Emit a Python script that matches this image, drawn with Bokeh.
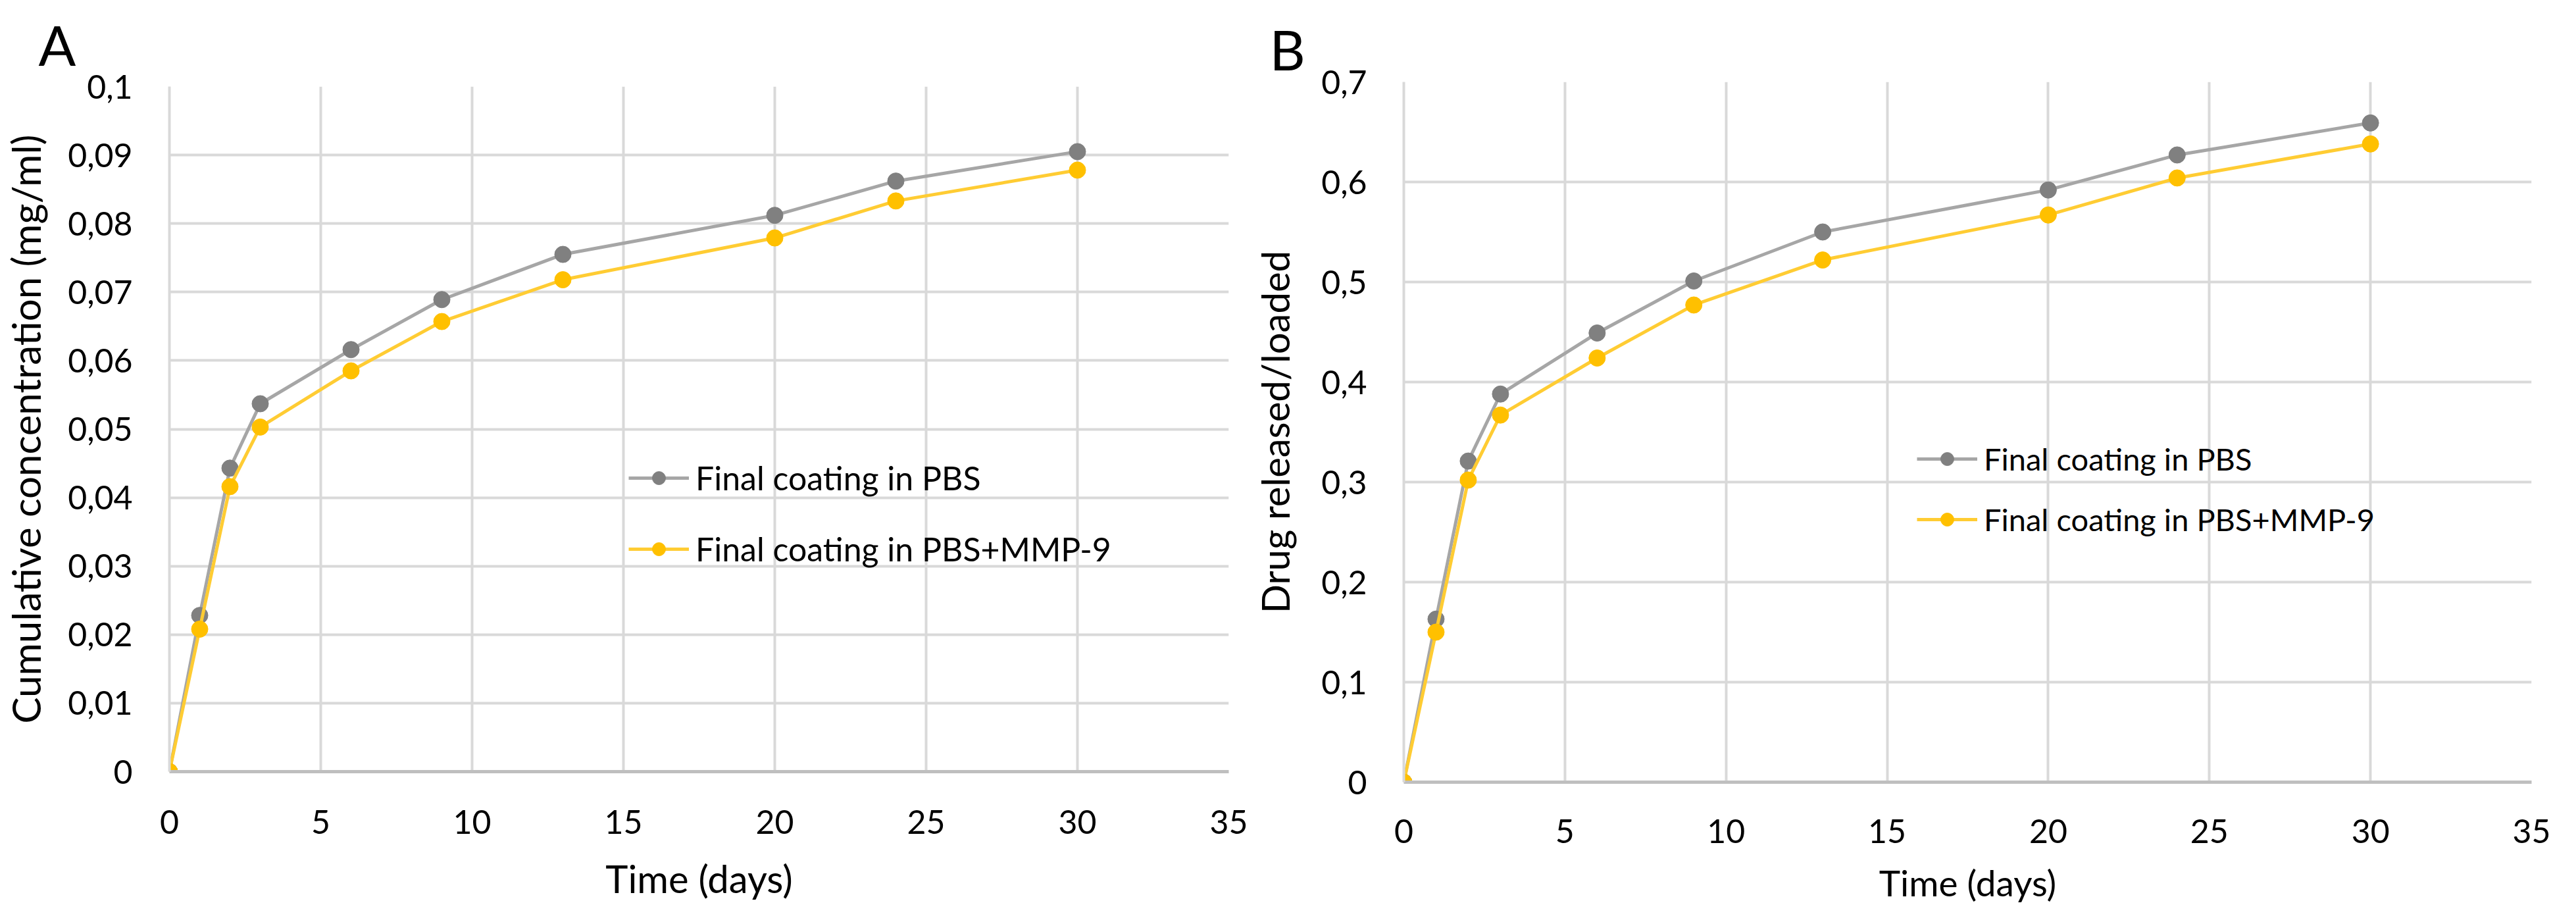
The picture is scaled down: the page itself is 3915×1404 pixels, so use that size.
from bokeh.plotting import figure
from bokeh.layouts import row
from bokeh.models import Range1d, FixedTicker, Legend, LegendItem
from bokeh.embed import file_html
from bokeh.resources import INLINE

# ---- data ----
days = [0, 1, 2, 3, 6, 9, 13, 20, 24, 30]
conc_pbs = [0, 0.0228, 0.0443, 0.0537, 0.0616, 0.0689, 0.0755, 0.0812, 0.0862, 0.0905]
conc_mmp = [0, 0.0208, 0.0416, 0.0503, 0.0585, 0.0657, 0.0718, 0.0779, 0.0833, 0.0878]
rel_pbs = [0, 0.163, 0.321, 0.388, 0.449, 0.501, 0.550, 0.592, 0.627, 0.659]
rel_mmp = [0, 0.150, 0.302, 0.367, 0.424, 0.477, 0.522, 0.567, 0.604, 0.638]

x_ticks = [0, 5, 10, 15, 20, 25, 30, 35]
yA_ticks = [0, 0.01, 0.02, 0.03, 0.04, 0.05, 0.06, 0.07, 0.08, 0.09, 0.1]
yA_labels = ["0", "0,01", "0,02", "0,03", "0,04", "0,05", "0,06", "0,07", "0,08", "0,09", "0,1"]
yB_ticks = [0, 0.1, 0.2, 0.3, 0.4, 0.5, 0.6, 0.7]
yB_labels = ["0", "0,1", "0,2", "0,3", "0,4", "0,5", "0,6", "0,7"]

series_names = ["Final coating in PBS", "Final coating in PBS+MMP-9"]
line_colors = ["#A6A6A6", "#FFCC33"]
marker_colors = ["#808080", "#FFC000"]

FONT = "Lato"
H = 1388


def make_panel(width, ymax, yticks, ylabels, ytitle, ys, letter, borders, legend_cfg,
               letter_cfg, yt_cfg, xt_cfg):
    left, right, top, bottom = borders
    p = figure(width=width, height=H, output_backend="svg", toolbar_location=None,
               x_range=Range1d(0, 35), y_range=Range1d(0, ymax),
               min_border_left=left, min_border_right=right,
               min_border_top=top, min_border_bottom=bottom,
               frame_align=False)
    p.outline_line_color = None
    p.background_fill_color = "white"
    p.border_fill_color = "white"

    # panel letter as the figure title
    p.title.text = letter
    p.title.text_font = FONT
    p.title.text_font_size = "84px"
    p.title.text_font_style = "normal"
    p.title.text_color = "#000000"
    p.title.align = "left"
    p.title.offset = letter_cfg[0]
    p.title.standoff = letter_cfg[1]

    p.xaxis.ticker = FixedTicker(ticks=x_ticks)
    p.yaxis.ticker = FixedTicker(ticks=yticks)
    p.yaxis.major_label_overrides = {t: l for t, l in zip(yticks, ylabels)}

    for ax in (p.xaxis[0], p.yaxis[0]):
        ax.major_tick_line_color = None
        ax.minor_tick_line_color = None
        ax.major_label_text_font = FONT
        ax.major_label_text_font_size = "50px"
        ax.major_label_text_color = "#000000"
        ax.axis_label_text_font = FONT
        ax.axis_label_text_font_style = "normal"
        ax.axis_label_text_color = "#000000"
    p.xaxis.axis_label_text_font_size = xt_cfg[2]
    p.yaxis.axis_label_text_font_size = yt_cfg[0]
    p.xaxis.axis_line_color = "#BFBFBF"
    p.xaxis.axis_line_width = 5
    p.yaxis.axis_line_color = "#D9D9D9"
    p.yaxis.axis_line_width = 4
    p.xaxis.major_label_standoff = xt_cfg[0]
    p.yaxis.major_label_standoff = 50
    p.xaxis.axis_label = "Time (days)"
    p.xaxis.axis_label_standoff = xt_cfg[1]
    p.yaxis.axis_label = ytitle
    p.yaxis.axis_label_standoff = yt_cfg[1]

    p.xgrid.grid_line_color = "#D9D9D9"
    p.xgrid.grid_line_width = 4
    p.ygrid.grid_line_color = "#D9D9D9"
    p.ygrid.grid_line_width = 4

    items = []
    for name, yv, lc, mc in zip(series_names, ys, line_colors, marker_colors):
        r1 = p.line(days, yv, line_color=lc, line_width=5)
        r2 = p.scatter(days, yv, size=25, fill_color=mc, line_color=mc)
        items.append(LegendItem(label=name, renderers=[r1, r2]))

    lx, ly, spacing, fs = legend_cfg
    leg = Legend(items=items, location=(lx, ly), orientation="vertical",
                 glyph_width=92, glyph_height=50, label_height=50,
                 label_standoff=10, spacing=spacing, padding=0, margin=0,
                 border_line_color=None, background_fill_alpha=0,
                 label_text_font=FONT, label_text_font_size=fs,
                 label_text_color="#000000")
    p.add_layout(leg, "center")
    return p


pA = make_panel(1900, 0.1, yA_ticks, yA_labels, "Cumulative concentration (mg/ml)",
                [conc_pbs, conc_mmp], "A", (257, 33, 129, 216),
                (698, 308, 48, "50px"), (-199, 28), ("60px", 25), (52, 30, "58px"))
pB = make_panel(1999, 0.7, yB_ticks, yB_labels, "Drug released/loaded",
                [rel_pbs, rel_mmp], "B", (214, 52, 124, 200),
                (780, 371, 36, "47px"), (-204, 0), ("58px", 33), (50, 24, "55px"))

layout = row(pA, pB)
open("out.html", "w").write(file_html(layout, INLINE))
